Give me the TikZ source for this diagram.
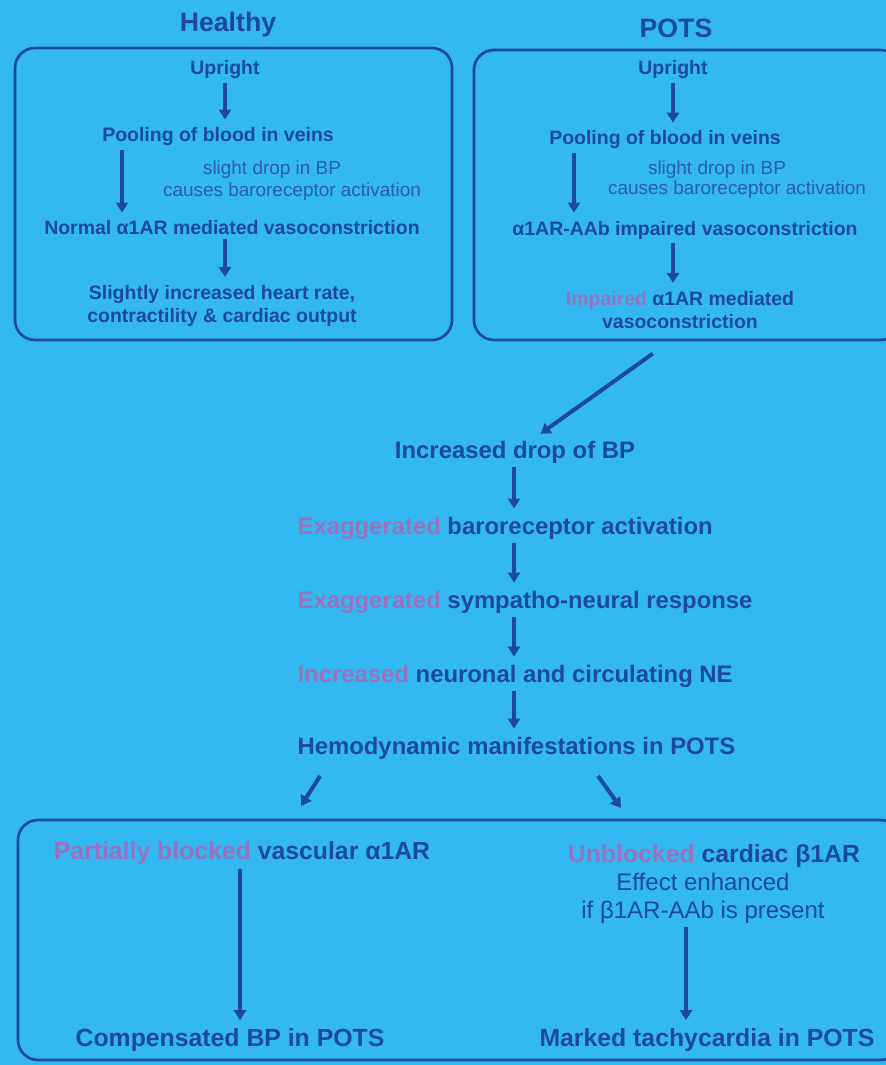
\documentclass[tikz,border=0pt]{standalone}
\usepackage{fontspec}
\setmainfont{Liberation Sans}
\usetikzlibrary{arrows.meta,positioning,calc}
\definecolor{slideblue}{HTML}{33B8EF}
\definecolor{inkblue}{HTML}{1B4A98}
\definecolor{softblue}{HTML}{2C5DAE}
\definecolor{accent}{HTML}{9A72C2}
\tikzset{
  head/.style={font=\bfseries\fontsize{20}{24}\selectfont, text=inkblue, inner sep=1pt},
  boxtxt/.style={font=\bfseries\fontsize{14.6}{17.5}\selectfont, text=inkblue, inner sep=1pt, align=center},
  smalltxt/.style={font=\fontsize{14.2}{17}\selectfont, text=softblue, inner sep=1pt},
  chain/.style={font=\bfseries\fontsize{17.9}{21}\selectfont, text=inkblue, inner sep=1pt},
  outtxt/.style={font=\bfseries\fontsize{18.6}{22}\selectfont, text=inkblue, inner sep=1pt, align=center},
  notetxt/.style={font=\fontsize{18}{21}\selectfont, text=inkblue, inner sep=1pt, align=center},
  frame/.style={draw=inkblue, line width=2pt, rounded corners=15pt},
  arr/.style={-{Triangle[length=7.5pt,width=9pt]}, line width=3pt, draw=inkblue, shorten <=2pt, shorten >=5pt}
}
\newcommand{\accword}[1]{\textcolor{accent}{#1}}

\begin{document}
\begin{tikzpicture}[x=0.75pt, y=-0.75pt]
  \fill[slideblue] (0,0) rectangle (886,1065);
  \clip (0,0) rectangle (886,1065);

  % headings and the two upper frames
  \node[head] (thealthy) at (228,25) {Healthy};
  \node[head] (tpots) at (676,28) {POTS};
  \draw[frame] (15,48) rectangle (452,340);
  \draw[frame] (474,50) rectangle (900,340);

  % healthy column
  \node[boxtxt] (hup) at (225,70) {Upright};
  \node[boxtxt] (hpool) at (218,137) {Pooling of blood in veins};
  \node[smalltxt] (hdrop) at (272,170) {slight drop in BP};
  \node[smalltxt] (hbaro) at (292,192) {causes baroreceptor activation};
  \node[boxtxt] (hnorm) at (232,228) {Normal α1AR mediated vasoconstriction};
  \node[boxtxt] (hheart) at (222,306) {Slightly increased heart rate,\\contractility \& cardiac output};
  \coordinate (hside) at (122,0);
  \draw[arr] (hup) -- (hup |- hpool.north);
  \draw[arr] (hside |- hpool.south) -- (hside |- hnorm.north);
  \draw[arr] (hnorm.south -| hup) -- (hup |- hheart.north);

  % POTS column
  \node[boxtxt] (pup) at (673,70) {Upright};
  \node[boxtxt] (ppool) at (665,140) {Pooling of blood in veins};
  \node[smalltxt] (pdrop) at (717,170) {slight drop in BP};
  \node[smalltxt] (pbaro) at (737,190) {causes baroreceptor activation};
  \node[boxtxt] (paab) at (685,230) {α1AR-AAb impaired vasoconstriction};
  \node[boxtxt] (pimp) at (680,310) {\accword{Impaired} α1AR mediated\\vasoconstriction};
  \coordinate (pside) at (574,0);
  \draw[arr] (pup) -- (pup |- ppool.north);
  \draw[arr] (pside |- ppool.south) -- (pside |- paab.north);
  \draw[arr] (paab.south -| pup) -- (pup |- pimp.north);

  % central chain
  \coordinate (pout) at (655,352);
  \coordinate (spine) at (514,0);
  \node[chain] (ibp) at (515,452) {Increased drop of BP};
  \node[chain, anchor=west] (xbaro) at (296,528) {\accword{Exaggerated} baroreceptor activation};
  \node[chain, anchor=west] (xsymp) at (296,602) {\accword{Exaggerated} sympatho-neural response};
  \node[chain, anchor=west] (incne) at (296,676) {\accword{Increased} neuronal and circulating NE};
  \node[chain, anchor=west] (hemo) at (296,748) {Hemodynamic manifestations in POTS};
  \draw[arr, shorten >=7pt] (pout) -- (ibp);
  \draw[arr] (spine |- ibp.south) -- (spine |- xbaro.north);
  \draw[arr] (spine |- xbaro.south) -- (spine |- xsymp.north);
  \draw[arr] (spine |- xsymp.south) -- (spine |- incne.north);
  \draw[arr] (spine |- incne.south) -- (spine |- hemo.north);

  % split into the lower frame
  \coordinate (splitl) at (320,776);
  \coordinate (endl) at (301,806);
  \coordinate (splitr) at (598,776);
  \coordinate (endr) at (621,808);
  \draw[arr, shorten <=0pt, shorten >=0pt] (splitl) -- (endl);
  \draw[arr, shorten <=0pt, shorten >=0pt] (splitr) -- (endr);
  \draw[frame] (18,820) rectangle (900,1060);

  % vascular branch
  \node[outtxt] (vasc) at (242,853) {\accword{Partially blocked} vascular α1AR};
  \node[outtxt] (comp) at (230,1040) {Compensated BP in POTS};
  \coordinate (vline) at (240,0);
  \draw[arr] (vline |- vasc.south) -- (vline |- comp.north);

  % cardiac branch
  \node[outtxt] (card) at (714,856) {\accword{Unblocked} cardiac β1AR};
  \node[notetxt] (effect) at (703,898) {Effect enhanced\\if β1AR-AAb is present};
  \node[outtxt] (tachy) at (707,1040) {Marked tachycardia in POTS};
  \coordinate (cline) at (686,0);
  \draw[arr] (cline |- effect.south) -- (cline |- tachy.north);
\end{tikzpicture}
\end{document}
